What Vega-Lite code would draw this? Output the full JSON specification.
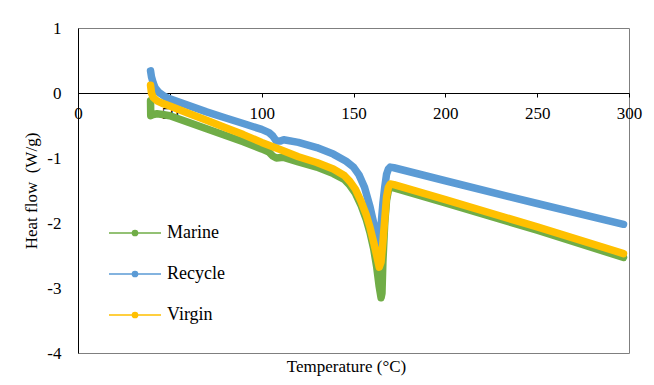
{
  "$schema": "https://vega.github.io/schema/vega-lite/v6.json",
  "width": 551,
  "height": 325,
  "autosize": "none",
  "padding": {"left": 78, "top": 28, "right": 25, "bottom": 32},
  "background": "white",
  "config": {"view": {"stroke": "#7f7f7f", "strokeWidth": 1}, "font": "Liberation Serif, serif"},
  "title": {"text": "Temperature (°C)", "orient": "bottom", "anchor": "middle", "frame": "group", "fontSize": 17, "font": "Liberation Serif, serif", "fontWeight": "normal", "color": "black", "offset": -2, "dx": -7},
  "data": {"values": [
    {"s":"Marine","t":39.5,"hf":-0.12},{"s":"Marine","t":39.6,"hf":-0.35},{"s":"Marine","t":41,"hf":-0.33},{"s":"Marine","t":43,"hf":-0.32},{"s":"Marine","t":46,"hf":-0.33},{"s":"Marine","t":50,"hf":-0.35},{"s":"Marine","t":60,"hf":-0.45},{"s":"Marine","t":70,"hf":-0.55},{"s":"Marine","t":80,"hf":-0.65},{"s":"Marine","t":90,"hf":-0.75},{"s":"Marine","t":100,"hf":-0.86},{"s":"Marine","t":104,"hf":-0.91},{"s":"Marine","t":106,"hf":-0.97},{"s":"Marine","t":108,"hf":-1.0},{"s":"Marine","t":112,"hf":-0.99},{"s":"Marine","t":120,"hf":-1.06},{"s":"Marine","t":130,"hf":-1.14},{"s":"Marine","t":139,"hf":-1.24},{"s":"Marine","t":145,"hf":-1.33},{"s":"Marine","t":148,"hf":-1.42},{"s":"Marine","t":151,"hf":-1.54},{"s":"Marine","t":154,"hf":-1.72},{"s":"Marine","t":157,"hf":-1.95},{"s":"Marine","t":159,"hf":-2.15},{"s":"Marine","t":161,"hf":-2.4},{"s":"Marine","t":162.6,"hf":-2.67},{"s":"Marine","t":164,"hf":-2.98},{"s":"Marine","t":165,"hf":-3.15},{"s":"Marine","t":165.5,"hf":-3.08},{"s":"Marine","t":166,"hf":-2.6},{"s":"Marine","t":167,"hf":-2.0},{"s":"Marine","t":168,"hf":-1.65},{"s":"Marine","t":169,"hf":-1.5},{"s":"Marine","t":170,"hf":-1.45},{"s":"Marine","t":172,"hf":-1.46},{"s":"Marine","t":200,"hf":-1.69},{"s":"Marine","t":250,"hf":-2.11},{"s":"Marine","t":297,"hf":-2.53},
    {"s":"Recycle","t":39.5,"hf":0.34},{"s":"Recycle","t":40,"hf":0.25},{"s":"Recycle","t":41,"hf":0.15},{"s":"Recycle","t":42,"hf":0.08},{"s":"Recycle","t":44,"hf":0.01},{"s":"Recycle","t":47,"hf":-0.05},{"s":"Recycle","t":50,"hf":-0.09},{"s":"Recycle","t":60,"hf":-0.19},{"s":"Recycle","t":70,"hf":-0.29},{"s":"Recycle","t":80,"hf":-0.38},{"s":"Recycle","t":90,"hf":-0.47},{"s":"Recycle","t":100,"hf":-0.56},{"s":"Recycle","t":104,"hf":-0.61},{"s":"Recycle","t":106,"hf":-0.66},{"s":"Recycle","t":108,"hf":-0.74},{"s":"Recycle","t":110,"hf":-0.74},{"s":"Recycle","t":112,"hf":-0.72},{"s":"Recycle","t":120,"hf":-0.76},{"s":"Recycle","t":130,"hf":-0.84},{"s":"Recycle","t":139,"hf":-0.94},{"s":"Recycle","t":146,"hf":-1.05},{"s":"Recycle","t":150,"hf":-1.14},{"s":"Recycle","t":153,"hf":-1.26},{"s":"Recycle","t":156,"hf":-1.45},{"s":"Recycle","t":159,"hf":-1.75},{"s":"Recycle","t":161,"hf":-2.0},{"s":"Recycle","t":162.5,"hf":-2.2},{"s":"Recycle","t":163.5,"hf":-2.35},{"s":"Recycle","t":164.5,"hf":-2.2},{"s":"Recycle","t":166,"hf":-1.7},{"s":"Recycle","t":167,"hf":-1.45},{"s":"Recycle","t":168,"hf":-1.25},{"s":"Recycle","t":169,"hf":-1.17},{"s":"Recycle","t":170,"hf":-1.14},{"s":"Recycle","t":172,"hf":-1.15},{"s":"Recycle","t":200,"hf":-1.35},{"s":"Recycle","t":250,"hf":-1.70},{"s":"Recycle","t":297,"hf":-2.02},
    {"s":"Virgin","t":39.5,"hf":0.12},{"s":"Virgin","t":40,"hf":0.0},{"s":"Virgin","t":41,"hf":-0.07},{"s":"Virgin","t":43,"hf":-0.12},{"s":"Virgin","t":46,"hf":-0.16},{"s":"Virgin","t":50,"hf":-0.2},{"s":"Virgin","t":60,"hf":-0.31},{"s":"Virgin","t":70,"hf":-0.42},{"s":"Virgin","t":80,"hf":-0.53},{"s":"Virgin","t":90,"hf":-0.64},{"s":"Virgin","t":100,"hf":-0.76},{"s":"Virgin","t":110,"hf":-0.87},{"s":"Virgin","t":120,"hf":-0.98},{"s":"Virgin","t":130,"hf":-1.07},{"s":"Virgin","t":139,"hf":-1.17},{"s":"Virgin","t":145,"hf":-1.27},{"s":"Virgin","t":148,"hf":-1.36},{"s":"Virgin","t":151,"hf":-1.48},{"s":"Virgin","t":154,"hf":-1.66},{"s":"Virgin","t":157,"hf":-1.88},{"s":"Virgin","t":159,"hf":-2.07},{"s":"Virgin","t":161,"hf":-2.3},{"s":"Virgin","t":162.6,"hf":-2.5},{"s":"Virgin","t":164,"hf":-2.68},{"s":"Virgin","t":165,"hf":-2.6},{"s":"Virgin","t":166,"hf":-2.3},{"s":"Virgin","t":167,"hf":-1.95},{"s":"Virgin","t":168,"hf":-1.6},{"s":"Virgin","t":169,"hf":-1.45},{"s":"Virgin","t":170,"hf":-1.4},{"s":"Virgin","t":172,"hf":-1.41},{"s":"Virgin","t":200,"hf":-1.64},{"s":"Virgin","t":250,"hf":-2.06},{"s":"Virgin","t":297,"hf":-2.47}
  ]},
  "mark": {"type": "line", "strokeWidth": 7.5, "strokeCap": "round", "strokeJoin": "round"},
  "encoding": {
    "x": {"field": "t", "type": "quantitative", "scale": {"domain": [0, 300], "nice": false},
      "axis": {"values": [0, 50, 100, 150, 200, 250, 300], "offset": -260, "title": null, "grid": false, "domainColor": "black", "tickColor": "black", "tickSize": 4, "labelPadding": 8, "labelFontSize": 17, "labelColor": "black", "labelFont": "Liberation Serif, serif", "labelFlush": false, "labelOverlap": false, "labelExpr": "'' + datum.value"}},
    "y": {"field": "hf", "type": "quantitative", "scale": {"domain": [-4, 1], "nice": false},
      "axis": {"values": [-4, -3, -2, -1, 0, 1], "title": "Heat flow\u00a0 (W/g)", "grid": false, "ticks": false, "tickSize": 0, "domainColor": "black", "labelPadding": 17, "labelFontSize": 17, "labelColor": "black", "labelFont": "Liberation Serif, serif", "labelExpr": "'' + datum.value", "titleFont": "Liberation Serif, serif", "titleFontSize": 17, "titleFontWeight": "normal", "titleColor": "black", "titlePadding": 6}},
    "color": {"field": "s", "type": "nominal", "scale": {"domain": ["Marine", "Recycle", "Virgin"], "range": ["#70AD47", "#5B9BD5", "#FFC000"]},
      "legend": {"orient": "none", "legendX": 30, "legendY": 178, "title": null, "padding": 0,
        "symbolType": "M-1,0H1M-0.1,0A0.1,0.1,0,1,1,0.1,0A0.1,0.1,0,1,1,-0.1,0",
        "symbolSize": 2704, "symbolStrokeWidth": 1.5, "labelOffset": 5, "rowPadding": 5,
        "labelFontSize": 18, "labelFont": "Liberation Serif, serif", "labelColor": "black",
        "encode": {"symbols": {"update": {"fill": {"scale": "color", "field": "value"}, "fillOpacity": {"value": 1}}}}}}
  }
}
